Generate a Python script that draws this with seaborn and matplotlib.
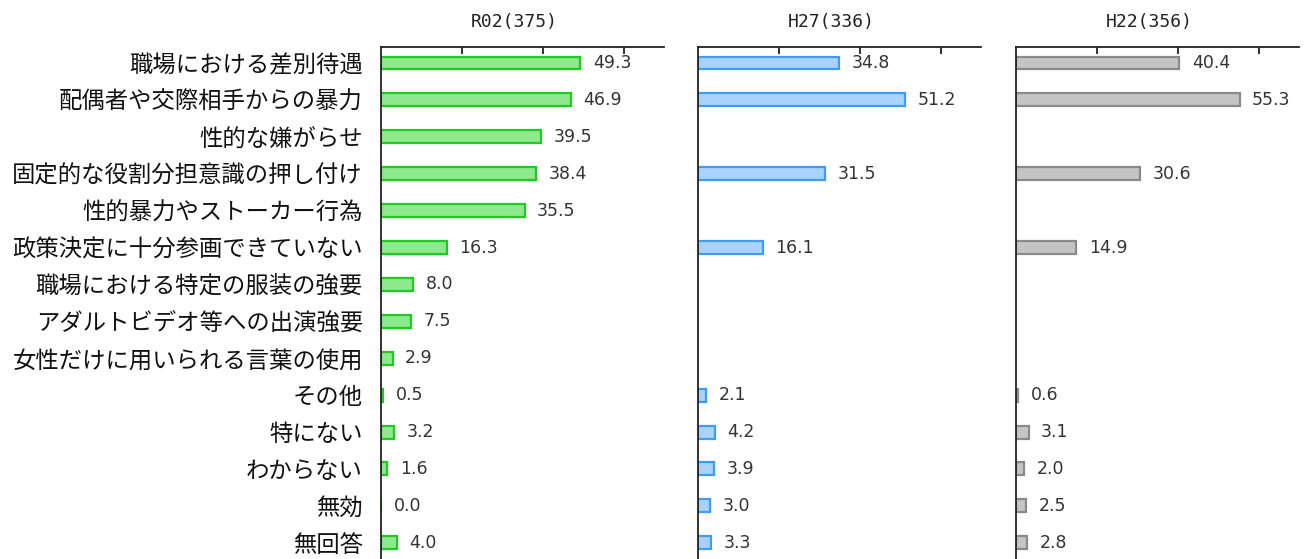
import matplotlib
matplotlib.use("Agg")
import matplotlib.pyplot as plt
import seaborn as sns
import numpy as np
import pandas as pd

sns.set_theme(style="white")
plt.rcParams['font.family'] = ['Noto Sans CJK JP', 'DejaVu Sans']

categories = [
    "職場における差別待遇",
    "配偶者や交際相手からの暴力",
    "性的な嫌がらせ",
    "固定的な役割分担意識の押し付け",
    "性的暴力やストーカー行為",
    "政策決定に十分参画できていない",
    "職場における特定の服装の強要",
    "アダルトビデオ等への出演強要",
    "女性だけに用いられる言葉の使用",
    "その他",
    "特にない",
    "わからない",
    "無効",
    "無回答",
]
r02 = [49.3, 46.9, 39.5, 38.4, 35.5, 16.3, 8.0, 7.5, 2.9, 0.5, 3.2, 1.6, 0.0, 4.0]
h27 = [34.8, 51.2, np.nan, 31.5, np.nan, 16.1, np.nan, np.nan, np.nan, 2.1, 4.2, 3.9, 3.0, 3.3]
h22 = [40.4, 55.3, np.nan, 30.6, np.nan, 14.9, np.nan, np.nan, np.nan, 0.6, 3.1, 2.0, 2.5, 2.8]
titles = ["R02(375)", "H27(336)", "H22(356)"]
series = [r02, h27, h22]
faces = ["#8ee88e", "#a9d3ff", "#c4c4c4"]
edges = ["#1ecb1e", "#3f9cf5", "#8a8a8a"]
ticks = [20, 40, 60]

W, H = 1304, 559
fig = plt.figure(figsize=(W / 100, H / 100), dpi=100)
lefts = [381, 698, 1016]
top_px = 47
aw = 283

for i, (vals, title, fc, ec, lp) in enumerate(zip(series, titles, faces, edges, lefts)):
    ax = fig.add_axes([lp / W, 0, aw / W, 1 - top_px / H])
    df = pd.DataFrame({"cat": categories, "val": vals})
    sns.barplot(data=df, x="val", y="cat", ax=ax, orient="h", width=0.35,
                color=fc, edgecolor=ec, linewidth=1.6, saturation=1, errorbar=None)
    ax.set_xlim(0, 70)
    ax.set_ylim(13.44, -0.434)
    ax.set_xlabel("")
    ax.set_ylabel("")
    for s in ["bottom", "right"]:
        ax.spines[s].set_visible(False)
    for s in ["top", "left"]:
        ax.spines[s].set_color("#222222")
        ax.spines[s].set_linewidth(1.3)
    ax.xaxis.tick_top()
    ax.set_xticks(ticks)
    ax.tick_params(axis="x", direction="in", length=5, width=1.3, color="#222222",
                   labeltop=False, labelbottom=False, top=True, bottom=False)
    if i == 0:
        ax.tick_params(axis="y", length=0, pad=13, labelsize=16.8, labelcolor="#111111")
    else:
        ax.tick_params(axis="y", length=0, labelleft=False)
    for j, v in enumerate(vals):
        if np.isnan(v):
            continue
        ax.annotate(f"{v:.1f}", xy=(v, j), xytext=(9, 0), textcoords="offset points",
                    ha="left", va="center", fontsize=12.5, color="#333333",
                    family="DejaVu Sans")
    ax.text(0.47, 1 + 25 / (H - top_px), title, transform=ax.transAxes,
            ha="center", va="center", fontsize=13, family="DejaVu Sans Mono",
            color="#222222")

fig.savefig("out.png", dpi=100)
